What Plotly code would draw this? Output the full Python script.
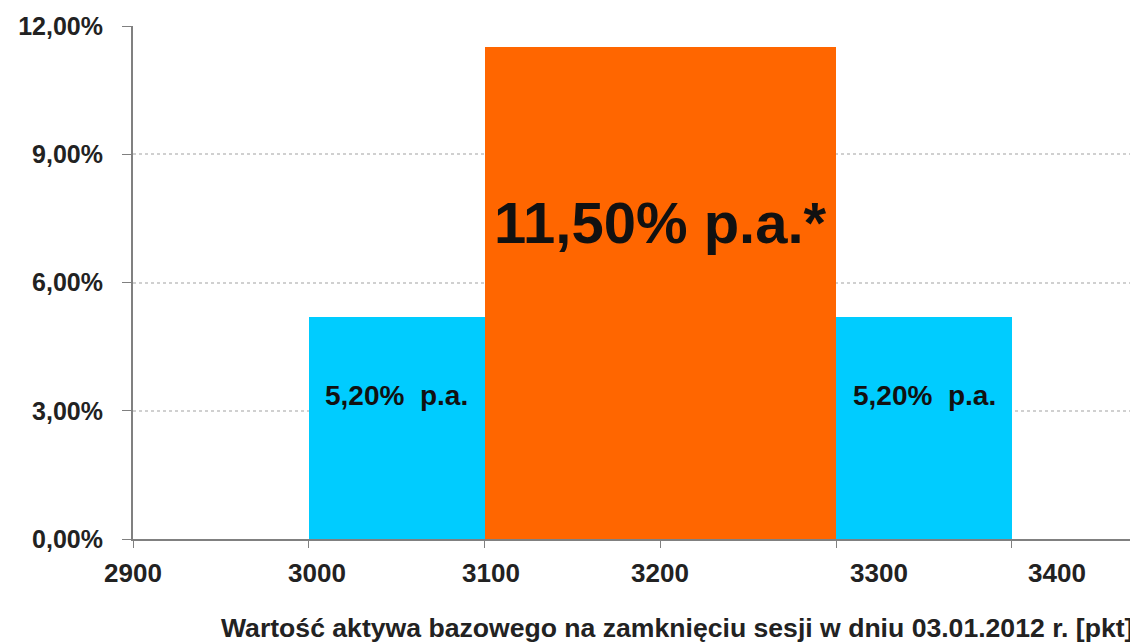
import plotly.graph_objects as go

# Data
bar_left = [3000, 3100, 3300]
bar_right = [3100, 3300, 3400]
bar_values = [5.2, 11.5, 5.2]
bar_colors = ["#00CCFF", "#FF6600", "#00CCFF"]
bar_labels = ["5,20%  p.a.", "11,50% p.a.*", "5,20%  p.a."]
y_tickvals = [0, 3, 6, 9, 12]
y_ticktext = ["0,00%", "3,00%", "6,00%", "9,00%", "12,00%"]
x_tickvals = [2900, 3000, 3100, 3200, 3300, 3400]
x_ticktext = ["2900", "3000", "3100", "3200", "3300", "3400"]
x_title = "Wartość aktywa bazowego na zamknięciu sesji w dniu 03.01.2012 r. [pkt]"

centers = [(l + r) / 2 for l, r in zip(bar_left, bar_right)]
widths = [r - l for l, r in zip(bar_left, bar_right)]

FONT = "Liberation Sans"

fig = go.Figure()
fig.add_trace(go.Bar(
    x=centers, y=bar_values, width=widths,
    marker=dict(color=bar_colors, line=dict(width=0)),
    hoverinfo="skip", showlegend=False,
))

label_y = [3.35, 7.4, 3.35]
label_size = [28, 58, 28]
for xc, yl, txt, fs in zip(centers, label_y, bar_labels, label_size):
    fig.add_annotation(x=xc, y=yl, text=txt, showarrow=False,
                       font=dict(family=FONT, size=fs, color="#111111", weight="bold"),
                       xanchor="center", yanchor="middle")

# x tick labels (the original chart draws some of them slightly right of their ticks)
tick_label_nudge = [0, 8, 6, 0, 43, 45]
for tv, tt, dx in zip(x_tickvals, x_ticktext, tick_label_nudge):
    fig.add_annotation(x=tv, xref="x", y=0, yref="paper", yshift=-34, xshift=dx,
                       text=tt, showarrow=False, xanchor="center", yanchor="middle",
                       font=dict(family=FONT, size=26, color="#222222", weight="bold"))

fig.add_annotation(xref="paper", yref="paper", x=1.0, y=0, yshift=-89,
                   text=x_title, showarrow=False, xanchor="right", yanchor="middle",
                   font=dict(family=FONT, size=26.6, color="#222222", weight="bold"))

fig.update_layout(
    width=1130, height=636,
    margin=dict(l=125, r=3, t=18, b=105),
    paper_bgcolor="white", plot_bgcolor="white",
    bargap=0,
    xaxis=dict(range=[2900, 3470], tickvals=x_tickvals, ticktext=x_ticktext, showticklabels=False,
               showgrid=False, zeroline=False, showline=True, linecolor="#808080", linewidth=1.5,
               ticks="outside", ticklen=7, tickcolor="#808080"),
    yaxis=dict(range=[0, 12], tickvals=y_tickvals, ticktext=y_ticktext,
               showgrid=True, gridcolor="#D0D0D0", griddash="dot", gridwidth=1.5,
               zeroline=False, showline=True, linecolor="#808080", linewidth=2,
               ticks="outside", ticklen=9, tickcolor="#808080", ticklabelstandoff=14,
               tickfont=dict(family=FONT, size=25, color="#222222", weight="bold")),
)

fig.write_html("out.html")
